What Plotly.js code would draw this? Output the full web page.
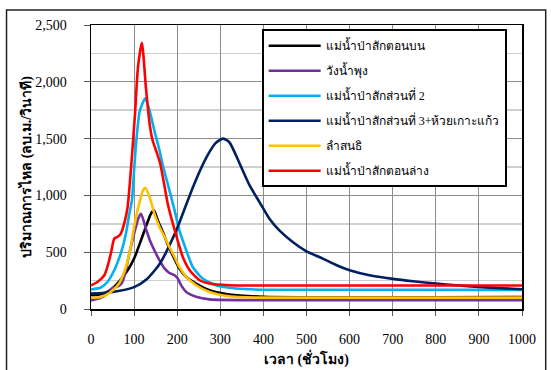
<!DOCTYPE html>
<html>
<head>
<meta charset="utf-8">
<script src="https://cdn.plot.ly/plotly-3.0.1.min.js"></script>
<style>
html,body{margin:0;padding:0;background:#fff;}
#chart{width:551px;height:370px;}
</style>
</head>
<body>
<div id="chart"></div>
<script>
// Series names
const seriesNames = [
  'แม่น้ำป่าสักตอนบน',
  'วังน้ำพุง',
  'แม่น้ำป่าสักส่วนที่ 2',
  'แม่น้ำป่าสักส่วนที่ 3+ห้วยเกาะแก้ว',
  'ลำสนธิ',
  'แม่น้ำป่าสักตอนล่าง'
];
const seriesColors = ['#000000', '#7030A0', '#00B0F0', '#002060', '#FFC000', '#FF0000'];

// Time (hours) and discharge (cms) for each series
const blackX = [0, 20, 38, 61, 85, 100, 116, 127, 139, 146, 155, 167, 178, 190, 205, 221, 244, 275, 321, 400, 1000];
const blackY = [120, 128, 150, 224, 341, 444, 605, 721, 839, 868, 780, 675, 568, 470, 356, 282, 224, 165, 127, 108, 105];

const purpleX = [0, 23, 42, 50, 60, 70, 77, 83, 89, 100, 110, 116, 128, 136, 147, 159, 171, 182, 194, 201, 209, 221, 244, 275, 400, 1000];
const purpleY = [76, 98, 150, 185, 195, 220, 282, 380, 488, 663, 800, 839, 700, 610, 517, 429, 356, 317, 297, 270, 210, 150, 108, 85, 78, 78];

const cyanX = [0, 23, 38, 54, 69, 81, 89, 95, 98, 105, 113, 126, 136, 147, 159, 167, 182, 194, 205, 221, 236, 259, 290, 337, 400, 1000];
const cyanY = [171, 189, 238, 341, 488, 663, 839, 956, 1116, 1473, 1741, 1855, 1747, 1571, 1395, 1260, 1044, 868, 692, 517, 370, 268, 209, 180, 170, 168];

const navyX = [0, 50, 100, 130, 150, 160, 182, 205, 229, 252, 270, 289, 306, 321, 345, 368, 391, 414, 437, 468, 499, 538, 570, 600, 646, 700, 747, 801, 847, 901, 950, 1000];
const navyY = [135, 150, 193, 265, 350, 400, 560, 760, 1000, 1210, 1350, 1460, 1500, 1468, 1279, 1088, 941, 795, 692, 590, 510, 444, 385, 341, 297, 265, 244, 224, 209, 194, 183, 174];

const yellowX = [0, 23, 46, 65, 81, 92, 100, 108, 114, 120, 126, 136, 147, 159, 171, 182, 194, 205, 221, 244, 275, 321, 400, 1000];
const yellowY = [100, 106, 150, 224, 370, 546, 721, 868, 956, 1040, 1068, 985, 839, 721, 634, 546, 458, 370, 282, 209, 150, 112, 100, 100];

const redX = [0, 15, 31, 38, 46, 54, 61, 69, 77, 85, 94, 102, 109, 118, 128, 136, 143, 151, 160, 171, 178, 190, 201, 213, 229, 252, 275, 321, 400, 1000];
const redY = [208, 238, 297, 370, 488, 620, 634, 663, 751, 900, 1295, 1711, 2128, 2343, 1923, 1630, 1483, 1395, 1290, 1073, 927, 751, 605, 458, 341, 253, 224, 209, 207, 207];

const xTickVals = [0, 100, 200, 300, 400, 500, 600, 700, 800, 900, 1000];

const xs = [blackX, purpleX, cyanX, navyX, yellowX, redX];
const ys = [blackY, purpleY, cyanY, navyY, yellowY, redY];

const traces = xs.map((x, i) => ({
  x: x, y: ys[i], type: 'scatter', mode: 'lines', name: seriesNames[i],
  legendgroup: 'g' + i,
  line: {color: seriesColors[i], width: 2.6, shape: 'spline', smoothing: 0.6}
}));

const serif = '"Liberation Serif", "Times New Roman", serif';

const layout = {
  width: 551, height: 370,
  margin: {l: 91, r: 29, t: 25, b: 61},
  paper_bgcolor: '#ffffff', plot_bgcolor: '#ffffff',
  font: {family: serif, size: 14, color: '#000'},
  showlegend: true,
  legend: {
    x: 0.396, y: 0.985, xanchor: 'left', yanchor: 'top',
    bgcolor: '#ffffff', bordercolor: '#000', borderwidth: 2,
    font: {family: serif, size: 12, color: '#000'},
    itemwidth: 52,
    tracegroupgap: 6
  },
  xaxis: {
    range: [0, 1000], tickvals: xTickVals, ticktext: xTickVals.map(String),
    showgrid: true, gridcolor: '#8c8c8c', gridwidth: 1,
    showline: true, linecolor: '#000', linewidth: 1.5, mirror: true,
    ticks: 'outside', ticklen: 5, tickcolor: '#555', tickwidth: 1,
    ticklabelstandoff: 12,
    tickfont: {family: serif, size: 14, color: '#000'},
    zeroline: false,
    title: {text: '<b>เวลา (ชั่วโมง)</b>', font: {family: serif, size: 14, color: '#000'}, standoff: 8}
  },
  yaxis: {
    range: [0, 2500], tickmode: 'linear', tick0: 0, dtick: 500, tickformat: ',',
    showgrid: true, gridcolor: '#8c8c8c', gridwidth: 1,
    minor: {tickmode: 'linear', tick0: 0, dtick: 250, showgrid: true, gridcolor: '#cfcfcf', gridwidth: 1.5, ticks: ''},
    showline: true, linecolor: '#000', linewidth: 1.5, mirror: true,
    ticks: 'outside', ticklen: 6, tickcolor: '#555', tickwidth: 1,
    ticklabelstandoff: 14,
    tickfont: {family: serif, size: 14, color: '#000'},
    zeroline: false,
    title: {text: '<b>ปริมาณการไหล (ลบ.ม./วินาที)</b>', font: {family: serif, size: 14, color: '#000'}, standoff: 0}
  },
  shapes: [{
    type: 'rect', xref: 'paper', yref: 'paper',
    x0: -0.196, x1: 1.055, y0: -0.3, y1: 1.053,
    line: {color: '#222', width: 1.5}, fillcolor: 'rgba(0,0,0,0)', layer: 'below'
  }]
};

Plotly.newPlot('chart', traces, layout, {displayModeBar: false, staticPlot: true});
</script>
</body>
</html>
